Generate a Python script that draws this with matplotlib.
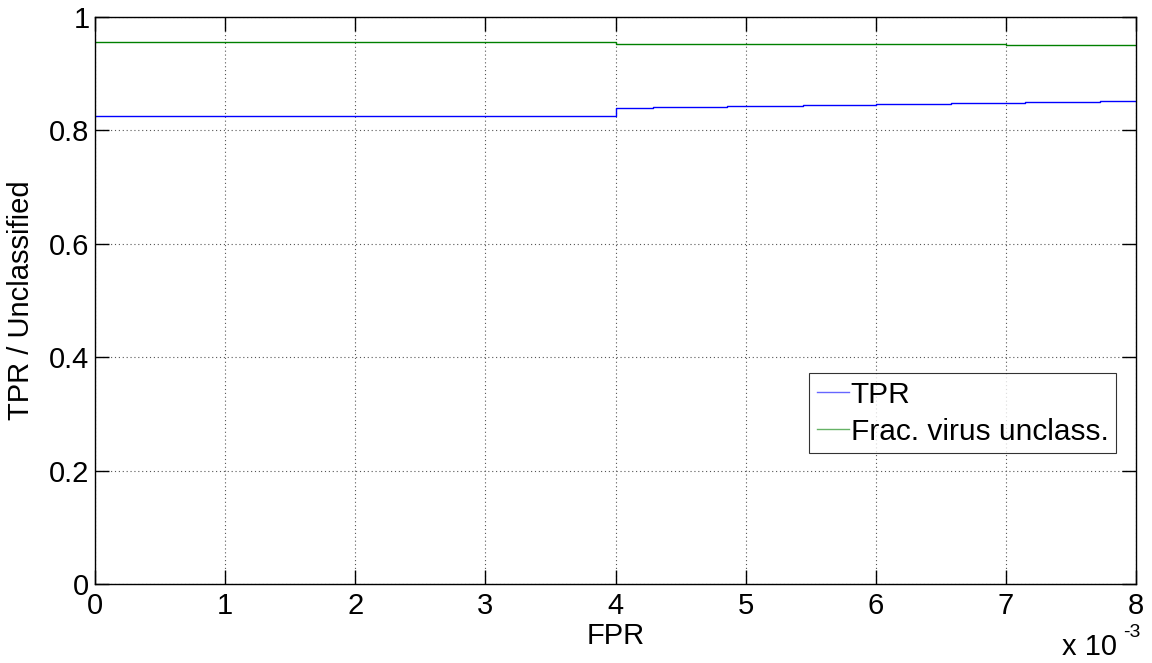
import matplotlib
matplotlib.use('Agg')
import matplotlib.pyplot as plt
from matplotlib.ticker import FuncFormatter

# FPR breakpoints (step curves, value holds until next breakpoint)
tpr_fpr = [0.0, 0.004, 0.00429, 0.00486, 0.00544, 0.0060, 0.00658, 0.00715, 0.00772, 0.008]
tpr_val = [0.825, 0.8395, 0.842, 0.8436, 0.8452, 0.847, 0.8487, 0.8502, 0.852, 0.852]

unc_fpr = [0.0, 0.004, 0.007, 0.008]
unc_val = [0.9557, 0.9525, 0.9505, 0.9505]

xticks = [i * 1e-3 for i in range(9)]
yticks = [0, 0.2, 0.4, 0.6, 0.8, 1]

plt.rcParams['font.family'] = ['Liberation Sans', 'DejaVu Sans']
plt.rcParams['font.size'] = 20

fig = plt.figure(figsize=(11.52, 6.63), dpi=100)
ax = fig.add_axes([0.0825, 0.1192, 0.9036, 0.8552])

ax.step(tpr_fpr, tpr_val, where='post', color='#0000ff', lw=1.0, label='TPR')
ax.step(unc_fpr, unc_val, where='post', color='#008000', lw=1.0, label='Frac. virus unclass.')

ax.set_xlim(0, 0.008)
ax.set_ylim(0, 1)
ax.set_xticks(xticks)
ax.set_yticks(yticks)
ax.xaxis.set_major_formatter(FuncFormatter(lambda v, p: '%g' % round(v * 1e3, 6)))
ax.yaxis.set_major_formatter(FuncFormatter(lambda v, p: '%g' % v))
ax.tick_params(direction='in', length=10, width=1, top=True, right=True,
               colors='#000000', labelsize=21)
ax.tick_params(axis='x', pad=6)
ax.tick_params(axis='y', pad=4)
ax.grid(True, linestyle=(0, (1, 2.5)), color='#555555', linewidth=0.8)
for s in ax.spines.values():
    s.set_linewidth(1.0)

ax.set_xlabel('FPR', fontsize=21, labelpad=1)
ax.set_ylabel('TPR / Unclassified', fontsize=21, labelpad=10)

fig.text(1062 / 1152, 1 - 655 / 663, 'x 10', fontsize=21, ha='left', va='baseline')
fig.text(1123 / 1152, 1 - 637 / 663, '-3', fontsize=14, ha='left', va='baseline')

leg = ax.legend(loc='lower right', bbox_to_anchor=(0.981, 0.231), fontsize=21.5,
                frameon=True, fancybox=False, handlelength=1.1, handletextpad=0.05,
                borderpad=0.25, labelspacing=0.3, borderaxespad=0)
leg.get_frame().set_edgecolor('#000000')
leg.get_frame().set_linewidth(0.8)
for line in leg.get_lines():
    line.set_alpha(0.6)

fig.savefig('out.png', dpi=100)
